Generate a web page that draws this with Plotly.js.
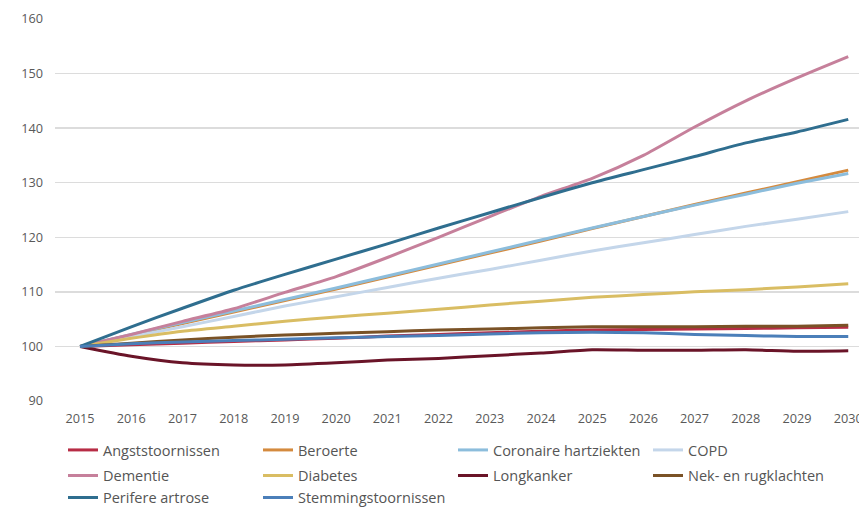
<!DOCTYPE html>
<html><head><meta charset="utf-8">
<script src="https://cdn.plot.ly/plotly-3.0.1.min.js"></script>
<style>html,body{margin:0;padding:0;background:#fff}#chart{width:859px;height:508px}</style>
</head><body><div id="chart"></div>
<script>
const years = [2015,2016,2017,2018,2019,2020,2021,2022,2023,2024,2025,2026,2027,2028,2029,2030];
const seriesNames = ["Angststoornissen","Beroerte","Coronaire hartziekten","COPD","Dementie","Diabetes","Longkanker","Nek- en rugklachten","Perifere artrose","Stemmingstoornissen"];
const angst    = [100,100.3,100.6,100.9,101.2,101.5,101.9,102.2,102.5,102.8,103.0,103.1,103.2,103.3,103.4,103.5];
const beroerte = [100,102.1,104.2,106.3,108.4,110.5,112.7,114.9,117.1,119.3,121.6,123.8,126.0,128.1,130.2,132.3];
const coronair = [100,102.2,104.4,106.5,108.6,110.7,112.9,115.1,117.3,119.5,121.7,123.8,125.9,127.9,129.9,131.7];
const copd     = [100,101.8,103.6,105.5,107.4,109.1,110.8,112.5,114.1,115.8,117.5,119.0,120.5,122.0,123.3,124.7];
const dementie = [100,102.2,104.6,106.9,109.9,112.8,116.3,120.0,123.8,127.5,130.8,135.0,140.2,145.0,149.2,153.1];
const diabetes = [100,101.5,102.8,103.7,104.6,105.4,106.1,106.8,107.6,108.3,109.0,109.5,110.0,110.4,110.9,111.5];
const longkank = [100,98.2,97.0,96.6,96.6,97.0,97.5,97.8,98.3,98.8,99.4,99.3,99.3,99.4,99.1,99.2];
const nek      = [100,100.6,101.2,101.7,102.1,102.4,102.7,103.0,103.2,103.4,103.6,103.6,103.6,103.7,103.7,103.9];
const perifeer = [100,103.6,107.0,110.3,113.2,116.0,118.8,121.7,124.5,127.3,130.0,132.4,134.8,137.3,139.3,141.6];
const stemming = [100,100.5,100.8,101.1,101.3,101.6,101.8,102.0,102.3,102.5,102.6,102.5,102.2,102.0,101.8,101.8];
const yTicks = [90,100,110,120,130,140,150,160];

const values = [angst,beroerte,coronair,copd,dementie,diabetes,longkank,nek,perifeer,stemming];
const colors = ["#b72c45","#d48a3e","#8cbddc","#c4d6ea","#c6809b","#d9bd63","#6a1428","#7a5226","#2f6e8f","#4b7fb9"];
const legendIds = ["legend","legend","legend","legend","legend2","legend2","legend2","legend2","legend3","legend3"];

const traces = seriesNames.map((n,i)=>({
  x: years, y: values[i], name: n, type: 'scatter', mode: 'lines',
  line: {color: colors[i], width: 3, shape: 'spline', smoothing: 0.6},
  legend: legendIds[i], hoverinfo: 'skip'
}));

const FONT = "Open Sans, sans-serif";
const legBase = (y) => ({
  orientation: 'h', xref: 'container', yref: 'container', x: 63/859, y: y,
  xanchor: 'left', yanchor: 'middle', entrywidth: 150, entrywidthmode: 'pixels',
  font: {family: FONT, size: 14.5, color: '#555'}, bgcolor: 'rgba(0,0,0,0)',
  itemwidth: 30, tracegroupgap: 0
});

const layout = {
  width: 859, height: 508,
  margin: {l: 55, r: 0, t: 19, b: 107},
  paper_bgcolor: '#fff', plot_bgcolor: '#fff',
  showlegend: true,
  font: {family: FONT, color: '#595959'},
  xaxis: {range: [2014.51, 2030.21], tickvals: years, ticktext: years.map(String),
    showgrid: false, zeroline: false, showline: false, ticks: '', ticklabelstandoff: 8,
    ticklabeloverflow: 'allow',
    tickfont: {family: FONT, size: 12.7, color: '#595959'}, fixedrange: true},
  yaxis: {range: [90, 160], tickvals: yTicks, showgrid: true, gridcolor: '#dcdcdc', gridwidth: 1.5,
    zeroline: false, showline: false, ticks: '', ticklabelstandoff: 11,
    tickfont: {family: FONT, size: 12.7, color: '#595959'}, fixedrange: true},
  legend: legBase(1 - 450/508),
  legend2: legBase(1 - 475.5/508),
  legend3: legBase(1 - 497.5/508)
};

Plotly.newPlot('chart', traces, layout, {displayModeBar: false, staticPlot: true});
</script></body></html>
